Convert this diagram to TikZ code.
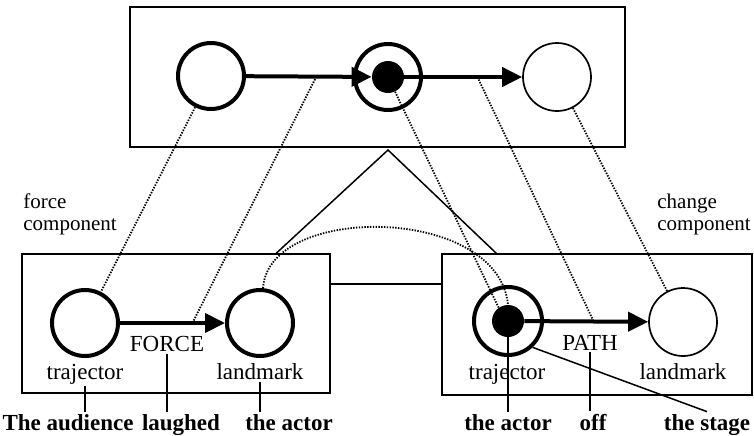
\documentclass[tikz,border=0pt]{standalone}
\usepackage{fontspec}
\setmainfont{Liberation Serif}
\usetikzlibrary{arrows.meta}

\begin{document}
\begin{tikzpicture}[x=0.5pt,y=-0.5pt,
		box/.style={draw,line width=0.75pt,inner sep=0pt},
		thickc/.style={circle,draw,line width=2pt,inner sep=0pt,minimum size=33pt},
		thinc/.style={circle,draw,line width=0.85pt,inner sep=0pt,minimum size=34pt},
		dot/.style={circle,fill,inner sep=0pt,minimum size=16pt},
		arr/.style={line width=2pt,-{Triangle[length=10pt,width=9.5pt]}},
		link/.style={line width=0.9pt,dash pattern=on 0.7pt off 0.7pt},
		lbl/.style={inner sep=1pt,anchor=base,font=\fontsize{11.5}{13}\selectfont},
		word/.style={inner sep=1pt,anchor=base,font=\fontsize{11.5}{13}\selectfont\bfseries},
		comp/.style={inner sep=0pt,align=left,anchor=west,font=\fontsize{10.5}{11}\selectfont}]
		\useasboundingbox (0,0) rectangle (754,435);

		% Top box
		\node[box,line width=1pt,minimum width=247.5pt,minimum height=70pt] (top) at (377.5,77) {};
		\node[thickc] (c1) at (211,76) {};
		\node[thickc] (c2) at (388,77) {};
		\node[dot] (d1) at (388,77) {};
		\node[thinc] (c3) at (557,77) {};
		\draw[arr] (c1) -- (d1) coordinate[pos=0.56] (m1);
		\draw[arr] (d1) -- (c3) coordinate[pos=0.62] (m2);

		% Force component
		\node[box,minimum width=154pt,minimum height=69.5pt] (lbox) at (176,323.5) {};
		\node[thickc] (lt) at (85,323) {};
		\node[thickc] (lm) at (260,323) {};
		\draw[arr] (lt) -- (lm) coordinate[pos=0.69] (m3);
		\node[lbl] (force) at (167,351) {FORCE};
		\node[lbl] (ltr) at (85,379) {trajector};
		\node[lbl] (llm) at (260,379) {landmark};
		\node[comp] (fc) at (23,214) {force\\component};

		% Change component
		\node[box,minimum width=155pt,minimum height=70.5pt] (rbox) at (597,324.5) {};
		\node[thickc,minimum size=34pt] (rt) at (508,321) {};
		\node[dot] (d2) at (508,321) {};
		\node[thinc] (rm) at (683,322) {};
		\draw[arr] (d2) -- (rm) coordinate[pos=0.56] (m4);
		\node[lbl] (path) at (590,350) {PATH};
		\node[lbl] (rtr) at (507,379) {trajector};
		\node[lbl] (rlm) at (683,379) {landmark};
		\node[comp] (cc) at (657,214) {change\\component};

		% Composition
		\coordinate (apex) at (388,150);
		\coordinate (h) at (0,284);
		\path (lbox.north west) ++(255,0) coordinate (tl);
		\path (rbox.north west) ++(55,0) coordinate (tr);
		\draw[line width=0.75pt] (tl) -- (apex) -- (tr);
		\draw[line width=0.75pt] (lbox.east |- h) -- (rbox.west |- h);

		% Correspondences
		\draw[link] (c1) -- (lt);
		\draw[link] (m1) -- (m3);
		\draw[link] (d1) -- (d2.125);
		\draw[link] (m2) -- (m4);
		\draw[link] (c3) -- (rm);
		\draw[link] (lm.85) .. controls +(5,-85) and +(-10,-100) .. (d2.north);

		% Words
		\node[word] (aud) at (68,430) {The audience};
		\node[word] (lau) at (181,430) {laughed};
		\node[word] (act1) at (289,430) {the actor};
		\node[word] (act2) at (508,430) {the actor};
		\node[word] (off) at (593,430) {off};
		\node[word] (stage) at (707,430) {the stage};
		\draw[line width=0.75pt] (ltr.south) -- (ltr.south |- aud.north);
		\draw[line width=0.75pt] (force.south) -- (force.south |- lau.north);
		\draw[line width=0.75pt] (llm.south) -- (llm.south |- act1.north);
		\draw[line width=0.75pt] (d2.south) -- (d2.south |- act2.north);
		\draw[line width=0.75pt] (path.south) -- (path.south |- off.north);
		\draw[line width=0.75pt] (rt.-47) -- (stage.north);
	\end{tikzpicture}
\end{document}
